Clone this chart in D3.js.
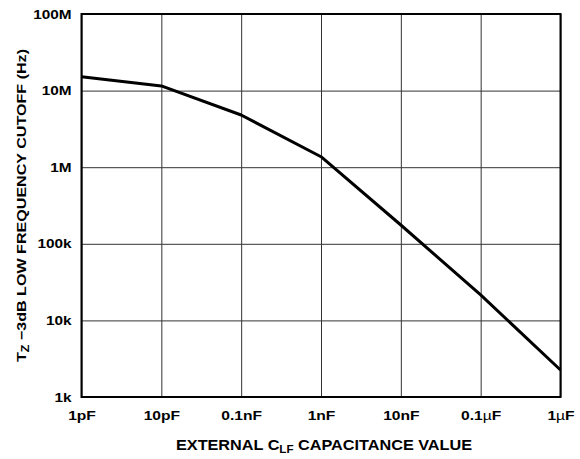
<!DOCTYPE html>
<html>
<head>
<meta charset="utf-8">
<script src="https://cdn.jsdelivr.net/npm/d3@7"></script>
<style>
  body { margin: 0; background: #fff; }
  svg text { font-family: "Liberation Sans", Arial, sans-serif; font-weight: bold; fill: #000; }
</style>
</head>
<body>
<div id="chart"></div>
<script>
// capacitance (F) and -3dB cutoff (Hz)
const capValues = [1e-12, 1e-11, 1e-10, 1e-9, 1e-8, 1e-7, 1e-6];
const cutoffValues = [15.2e6, 11.5e6, 4.8e6, 1.37e6, 176e3, 21.5e3, 2.25e3];

const xTicks = [1e-12, 1e-11, 1e-10, 1e-9, 1e-8, 1e-7, 1e-6];
const xTickLabels = ["1pF", "10pF", "0.1nF", "1nF", "10nF", "0.1\u00B5F", "1\u00B5F"];
const yTicks = [1e3, 1e4, 1e5, 1e6, 1e7, 1e8];
const yTickLabels = ["1k", "10k", "100k", "1M", "10M", "100M"];

const width = 580, height = 459;
const margin = { top: 14, right: 19.5, bottom: 62, left: 81.5 };
const w = width - margin.left - margin.right;
const h = height - margin.top - margin.bottom;

// the original lettering is wider than Arial: stretch each text,
// then re-anchor it by hand (start anchor + shifted x)
function stretch(sel, k, anchor, fixedLen) {
    sel.each(function () {
        const t = d3.select(this);
        const len = this.getComputedTextLength();
        const newLen = fixedLen || len * k;
        const x0 = +t.attr("x") || 0;
        const off = anchor === "middle" ? -newLen / 2 : anchor === "end" ? -newLen : 0;
        t.attr("text-anchor", "start")
            .attr("x", x0 + off)
            .attr("textLength", newLen)
            .attr("lengthAdjust", "spacingAndGlyphs");
    });
}

// µ drawn thinner, like the symbol font in the original
function microLabel(sel) {
    sel.each(function () {
        const t = d3.select(this);
        const s = t.text();
        if (s.indexOf("\u00B5") < 0) return;
        const parts = s.split("\u00B5");
        t.text(null);
        t.append("tspan").text(parts[0]);
        t.append("tspan").style("font-weight", "normal").text("\u00B5");
        t.append("tspan").text(parts[1]);
    });
}

const svg = d3.select("#chart").append("svg")
    .attr("width", width)
    .attr("height", height);

const g = svg.append("g")
    .attr("transform", `translate(${margin.left},${margin.top})`);

const x = d3.scaleLog().domain([1e-12, 1e-6]).range([0, w]);
const y = d3.scaleLog().domain([1e3, 1e8]).range([h, 0]);

// grid
g.append("g")
    .attr("transform", `translate(0,${h})`)
    .call(d3.axisBottom(x).tickValues(xTicks).tickSize(-h).tickFormat(""))
    .call(a => a.select(".domain").remove())
    .call(a => a.selectAll("line").attr("stroke", "#333").attr("stroke-width", 1));

g.append("g")
    .call(d3.axisLeft(y).tickValues(yTicks).tickSize(-w).tickFormat(""))
    .call(a => a.select(".domain").remove())
    .call(a => a.selectAll("line").attr("stroke", "#333").attr("stroke-width", 1));

// tick labels
g.append("g")
    .attr("transform", `translate(0,${h})`)
    .call(d3.axisBottom(x).tickValues(xTicks).tickSize(0).tickPadding(14)
        .tickFormat((d, i) => xTickLabels[i]))
    .call(a => a.select(".domain").remove())
    .call(a => a.selectAll("text").style("font-size", "13px")
        .call(microLabel).call(stretch, 1.2, "middle"));

g.append("g")
    .call(d3.axisLeft(y).tickValues(yTicks).tickSize(0).tickPadding(10)
        .tickFormat((d, i) => yTickLabels[i]))
    .call(a => a.select(".domain").remove())
    .call(a => a.selectAll("text").style("font-size", "13px").call(stretch, 1.18, "end"));

// frame
g.append("rect")
    .attr("width", w).attr("height", h)
    .attr("fill", "none")
    .attr("stroke", "#000")
    .attr("stroke-width", 2);

// curve
const line = d3.line()
    .x((d, i) => x(capValues[i]))
    .y(d => y(d));

g.append("path")
    .datum(cutoffValues)
    .attr("d", line)
    .attr("fill", "none")
    .attr("stroke", "#000")
    .attr("stroke-width", 3)
    .attr("stroke-linejoin", "round");

// axis titles
const xt = svg.append("text")
    .attr("x", margin.left + w / 2 + 3)
    .attr("y", 450)
    .style("font-size", "14px");
xt.append("tspan").text("EXTERNAL C");
xt.append("tspan").attr("dy", 3).style("font-size", "10px").text("LF");
xt.append("tspan").attr("dy", -3).text(" CAPACITANCE VALUE");
xt.call(stretch, 1, "middle", 296);

const yt = svg.append("text")
    .attr("transform", `translate(26,${margin.top + h / 2}) rotate(-90)`)
    .style("font-size", "13px");
yt.append("tspan").text("T");
yt.append("tspan").attr("dy", 3).style("font-size", "10px").text("Z");
yt.append("tspan").attr("dy", -3).text(" \u22123dB LOW FREQUENCY CUTOFF (Hz)");
yt.call(stretch, 1, "middle", 313);
</script>
</body>
</html>
